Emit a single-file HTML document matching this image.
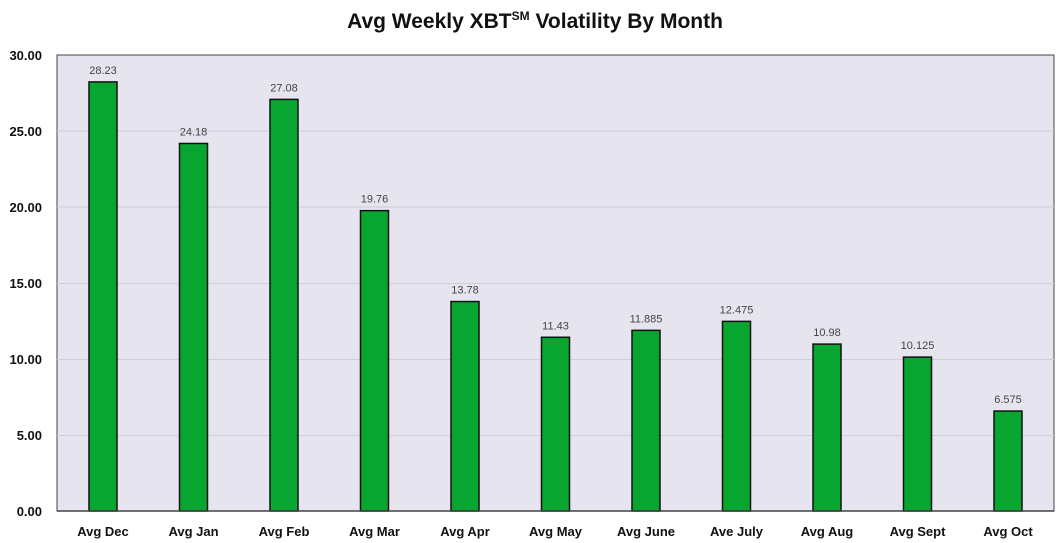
<!DOCTYPE html>
<html><head><style>body{margin:0;background:#fff}svg{display:block}</style></head><body>
<svg width="1057" height="543" xmlns="http://www.w3.org/2000/svg" font-family="Liberation Sans, sans-serif">
<text x="535" y="28" text-anchor="middle" font-size="21" font-weight="bold" fill="#111">Avg Weekly XBT<tspan font-size="12" dy="-8">SM</tspan><tspan dy="8"> Volatility By Month</tspan></text>
<rect x="57" y="55" width="997" height="456" fill="#e6e4ee" stroke="#444" stroke-width="1"/>
<g stroke="#cfcdd8" stroke-width="1">
<line x1="57" x2="1054" y1="131" y2="131"/><line x1="57" x2="1054" y1="207" y2="207"/>
<line x1="57" x2="1054" y1="283.5" y2="283.5"/><line x1="57" x2="1054" y1="359.5" y2="359.5"/>
<line x1="57" x2="1054" y1="435.5" y2="435.5"/></g>
<g font-size="13" font-weight="bold" fill="#111" text-anchor="end">
<text x="42" y="60">30.00</text><text x="42" y="136">25.00</text><text x="42" y="212">20.00</text>
<text x="42" y="288">15.00</text><text x="42" y="364">10.00</text><text x="42" y="440">5.00</text><text x="42" y="516">0.00</text></g>
<g id="bars" fill="#08a531" stroke="#111" stroke-width="1.5"></g>
<g id="lbl" font-size="11" fill="#444" text-anchor="middle"></g>
<g id="cat" font-size="13" font-weight="bold" fill="#111" text-anchor="middle"></g>
<line x1="57" x2="1054" y1="511" y2="511" stroke="#444" stroke-width="1.5"/>
<script>
var d=[["Avg Dec",28.23,"28.23"],["Avg Jan",24.18,"24.18"],["Avg Feb",27.08,"27.08"],["Avg Mar",19.76,"19.76"],["Avg Apr",13.78,"13.78"],["Avg May",11.43,"11.43"],["Avg June",11.885,"11.885"],["Ave July",12.475,"12.475"],["Avg Aug",10.98,"10.98"],["Avg Sept",10.125,"10.125"],["Avg Oct",6.575,"6.575"]];
var ns="http://www.w3.org/2000/svg",b=document.getElementById("bars"),l=document.getElementById("lbl"),c=document.getElementById("cat");
d.forEach(function(e,i){var cx=103+90.5*i,y=511-e[1]*15.2;
var r=document.createElementNS(ns,"rect");r.setAttribute("x",cx-14);r.setAttribute("y",y);r.setAttribute("width",28);r.setAttribute("height",511-y);b.appendChild(r);
var t=document.createElementNS(ns,"text");t.setAttribute("x",cx);t.setAttribute("y",y-8);t.textContent=e[2];l.appendChild(t);
var t2=document.createElementNS(ns,"text");t2.setAttribute("x",cx);t2.setAttribute("y",536);t2.textContent=e[0];c.appendChild(t2);});
</script>
</svg>
</body></html>
